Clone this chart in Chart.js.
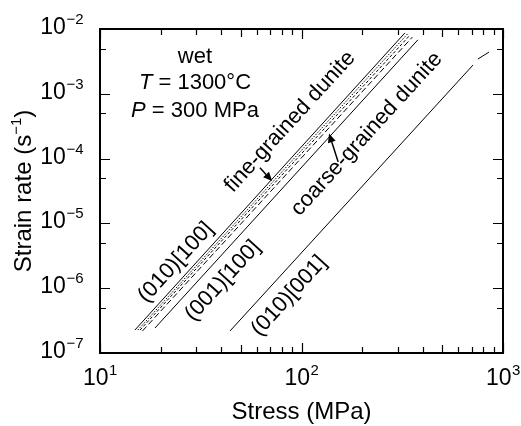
<!DOCTYPE html>
<html>
<head>
<meta charset="utf-8">
<script src="https://cdn.jsdelivr.net/npm/chart.js@4/dist/chart.umd.min.js"></script>
<style>
  html, body { margin: 0; padding: 0; background: #fff; }
</style>
</head>
<body>
<canvas id="flowChart" width="521" height="426"></canvas>
<script>
// axis ranges and ticks
const stressRange = [10, 1000];
const rateRange = [1e-7, 1e-2];
const stressDecades = [10, 100, 1000];
const stressMids = [50, 500];
const stressMinors = [20, 30, 40, 60, 70, 80, 90, 200, 300, 400, 600, 700, 800, 900];
const rateDecades = [1e-7, 1e-6, 1e-5, 1e-4, 1e-3, 1e-2];
const rateMids = [5e-7, 5e-6, 5e-5, 5e-4, 5e-3];

// flow laws, end points (stress MPa, strain rate 1/s)
const fineAStress = [14.9, 326];   const fineARate = [2.26e-7, 8.7e-3];
const fineBStress = [15.4, 336];   const fineBRate = [2.26e-7, 8.4e-3];
const fineCStress = [15.8, 346];   const fineCRate = [2.26e-7, 8.1e-3];
const fineDStress = [16.25, 355];  const fineDRate = [2.19e-7, 7.5e-3];
const c001Stress = [18.75, 378];   const c001Rate = [2.43e-7, 6.8e-3];
const c010Stress = [44.2, 710];    const c010Rate = [2.19e-7, 2.78e-3];
const c010ExtStress = [751, 852];  const c010ExtRate = [3.44e-3, 4.4e-3];

const FONT = '"Liberation Sans", Arial, Helvetica, sans-serif';

function pts(xs, ys) { return xs.map((x, i) => ({ x: x, y: ys[i] })); }

function lineSet(xs, ys, dash) {
  return { data: pts(xs, ys), showLine: true, borderColor: '#000', borderWidth: 1,
           borderDash: dash || [], pointRadius: 0, fill: false };
}

// text placed at data coordinates
const notes = [
  { text: 'fine-grained dunite', x: 87.7, y: 3.7e-4 },
  { text: 'coarse-grained dunite', x: 211, y: 2.4e-4 },
  { text: '(010)[100]', x: 23.8, y: 2.5e-6 },
  { text: '(001)[100]', x: 40.7, y: 1.3e-6 },
  { text: '(010)[001]', x: 86.7, y: 7.6e-7 }
];
const arrows = [
  { from: [62.2, 7.2e-5], to: [71.5, 4.5e-5] },
  { from: [152, 8.9e-5], to: [137, 2.45e-4] }
];

function drawPow(ctx, exp, x, y, align) {
  const base = '10';
  const sup = exp < 0 ? '\u2212' + (-exp) : String(exp);
  ctx.font = '23px ' + FONT;
  const wb = ctx.measureText(base).width;
  ctx.font = '15px ' + FONT;
  const ws = ctx.measureText(sup).width;
  let x0 = align === 'center' ? x - (wb + ws) / 2 : x - (wb + ws);
  ctx.textAlign = 'left';
  ctx.textBaseline = 'alphabetic';
  ctx.font = '23px ' + FONT;
  ctx.fillText(base, x0, y);
  ctx.font = '15px ' + FONT;
  ctx.fillText(sup, x0 + wb + 0.5, y - 10);
}

const decor = {
  id: 'decor',
  afterDatasetsDraw(chart) {
    const { ctx, chartArea: a, scales: { x, y } } = chart;
    ctx.save();
    ctx.strokeStyle = '#000';
    ctx.fillStyle = '#000';
    ctx.lineWidth = 2;
    ctx.strokeRect(a.left, a.top, a.right - a.left, a.bottom - a.top);

    // inward ticks on all four sides
    ctx.lineWidth = 1.2;
    const xt = (v, len) => {
      const px = Math.round(x.getPixelForValue(v)) + 0.5;
      ctx.beginPath();
      ctx.moveTo(px, a.bottom); ctx.lineTo(px, a.bottom - len);
      ctx.moveTo(px, a.top); ctx.lineTo(px, a.top + len);
      ctx.stroke();
    };
    const yt = (v, len) => {
      const py = Math.round(y.getPixelForValue(v)) + 0.5;
      ctx.beginPath();
      ctx.moveTo(a.left, py); ctx.lineTo(a.left + len, py);
      ctx.moveTo(a.right, py); ctx.lineTo(a.right - len, py);
      ctx.stroke();
    };
    stressDecades.forEach(v => xt(v, 10));
    stressMids.forEach(v => xt(v, 8));
    stressMinors.forEach(v => xt(v, 6));
    rateDecades.forEach(v => yt(v, 10));
    rateMids.forEach(v => yt(v, 6));

    // tick labels
    ctx.fillStyle = '#000';
    stressDecades.forEach(v => drawPow(ctx, Math.round(Math.log10(v)), x.getPixelForValue(v), a.bottom + 32, 'center'));
    rateDecades.forEach(v => drawPow(ctx, Math.round(Math.log10(v)), a.left - 17, y.getPixelForValue(v) + 5, 'right'));

    // axis titles
    ctx.font = '24px ' + FONT;
    ctx.textAlign = 'center';
    ctx.textBaseline = 'alphabetic';
    ctx.fillText('Stress (MPa)', (a.left + a.right) / 2, 419);

    ctx.save();
    ctx.translate(31, (a.top + a.bottom) / 2);
    ctx.rotate(-Math.PI / 2);
    const p1 = 'Strain rate (s', p2 = '\u22121', p3 = ')';
    ctx.font = '24px ' + FONT;
    const w1 = ctx.measureText(p1).width, w3 = ctx.measureText(p3).width;
    ctx.font = '15px ' + FONT;
    const w2 = ctx.measureText(p2).width;
    let sx = -(w1 + w2 + w3) / 2;
    ctx.textAlign = 'left';
    ctx.font = '24px ' + FONT;
    ctx.fillText(p1, sx, 0);
    ctx.font = '15px ' + FONT;
    ctx.fillText(p2, sx + w1, -10);
    ctx.font = '24px ' + FONT;
    ctx.fillText(p3, sx + w1 + w2, 0);
    ctx.restore();

    // conditions block
    const cx = x.getPixelForValue(29.6);
    ctx.font = '22px ' + FONT;
    ctx.textAlign = 'center';
    ctx.fillText('wet', cx, y.getPixelForValue(3.8e-3) + 7);
    const line2 = (ital, rest, yy) => {
      ctx.font = 'italic 22px ' + FONT;
      const wi = ctx.measureText(ital).width;
      ctx.font = '22px ' + FONT;
      const wr = ctx.measureText(rest).width;
      const s = cx - (wi + wr) / 2;
      ctx.textAlign = 'left';
      ctx.font = 'italic 22px ' + FONT;
      ctx.fillText(ital, s, yy);
      ctx.font = '22px ' + FONT;
      ctx.fillText(rest, s + wi, yy);
    };
    line2('T', ' = 1300\u00b0C', y.getPixelForValue(1.58e-3) + 8);
    line2('P', ' = 300 MPa', y.getPixelForValue(5.8e-4) + 8);

    // rotated labels along the flow laws
    const ang = Math.atan2(y.getPixelForValue(c001Rate[1]) - y.getPixelForValue(c001Rate[0]),
                           x.getPixelForValue(c001Stress[1]) - x.getPixelForValue(c001Stress[0]));
    notes.forEach(n => {
      ctx.save();
      ctx.translate(x.getPixelForValue(n.x), y.getPixelForValue(n.y));
      ctx.rotate(ang);
      ctx.font = '22px ' + FONT;
      ctx.textAlign = 'center';
      ctx.textBaseline = 'middle';
      ctx.fillText(n.text, 0, 0);
      ctx.restore();
    });

    // arrows
    ctx.lineWidth = 1.5;
    arrows.forEach(ar => {
      const x1 = x.getPixelForValue(ar.from[0]), y1 = y.getPixelForValue(ar.from[1]);
      const x2 = x.getPixelForValue(ar.to[0]), y2 = y.getPixelForValue(ar.to[1]);
      const t = Math.atan2(y2 - y1, x2 - x1);
      const hl = 9, hw = 4;
      ctx.beginPath();
      ctx.moveTo(x1, y1);
      ctx.lineTo(x2 - hl * Math.cos(t), y2 - hl * Math.sin(t));
      ctx.stroke();
      ctx.beginPath();
      ctx.moveTo(x2, y2);
      ctx.lineTo(x2 - hl * Math.cos(t) + hw * Math.sin(t), y2 - hl * Math.sin(t) - hw * Math.cos(t));
      ctx.lineTo(x2 - hl * Math.cos(t) - hw * Math.sin(t), y2 - hl * Math.sin(t) + hw * Math.cos(t));
      ctx.closePath();
      ctx.fill();
    });
    ctx.restore();
  }
};

new Chart(document.getElementById('flowChart'), {
  type: 'scatter',
  data: {
    datasets: [
      lineSet(fineAStress, fineARate),
      lineSet(fineBStress, fineBRate, [1.5, 1.5]),
      lineSet(fineCStress, fineCRate, [3, 2]),
      lineSet(fineDStress, fineDRate, [6, 3]),
      lineSet(c001Stress, c001Rate),
      lineSet(c010Stress, c010Rate),
      lineSet(c010ExtStress, c010ExtRate)
    ]
  },
  options: {
    responsive: false,
    animation: false,
    devicePixelRatio: 1,
    layout: { padding: { left: 100, top: 29, right: 18, bottom: 73 } },
    plugins: { legend: { display: false }, tooltip: { enabled: false } },
    scales: {
      x: {
        type: 'logarithmic', min: stressRange[0], max: stressRange[1],
        ticks: { display: false }, grid: { display: false, drawTicks: false }, border: { display: false },
        afterFit: s => { s.height = 0; }
      },
      y: {
        type: 'logarithmic', min: rateRange[0], max: rateRange[1],
        ticks: { display: false }, grid: { display: false, drawTicks: false }, border: { display: false },
        afterFit: s => { s.width = 0; }
      }
    }
  },
  plugins: [decor]
});
</script>
</body>
</html>
